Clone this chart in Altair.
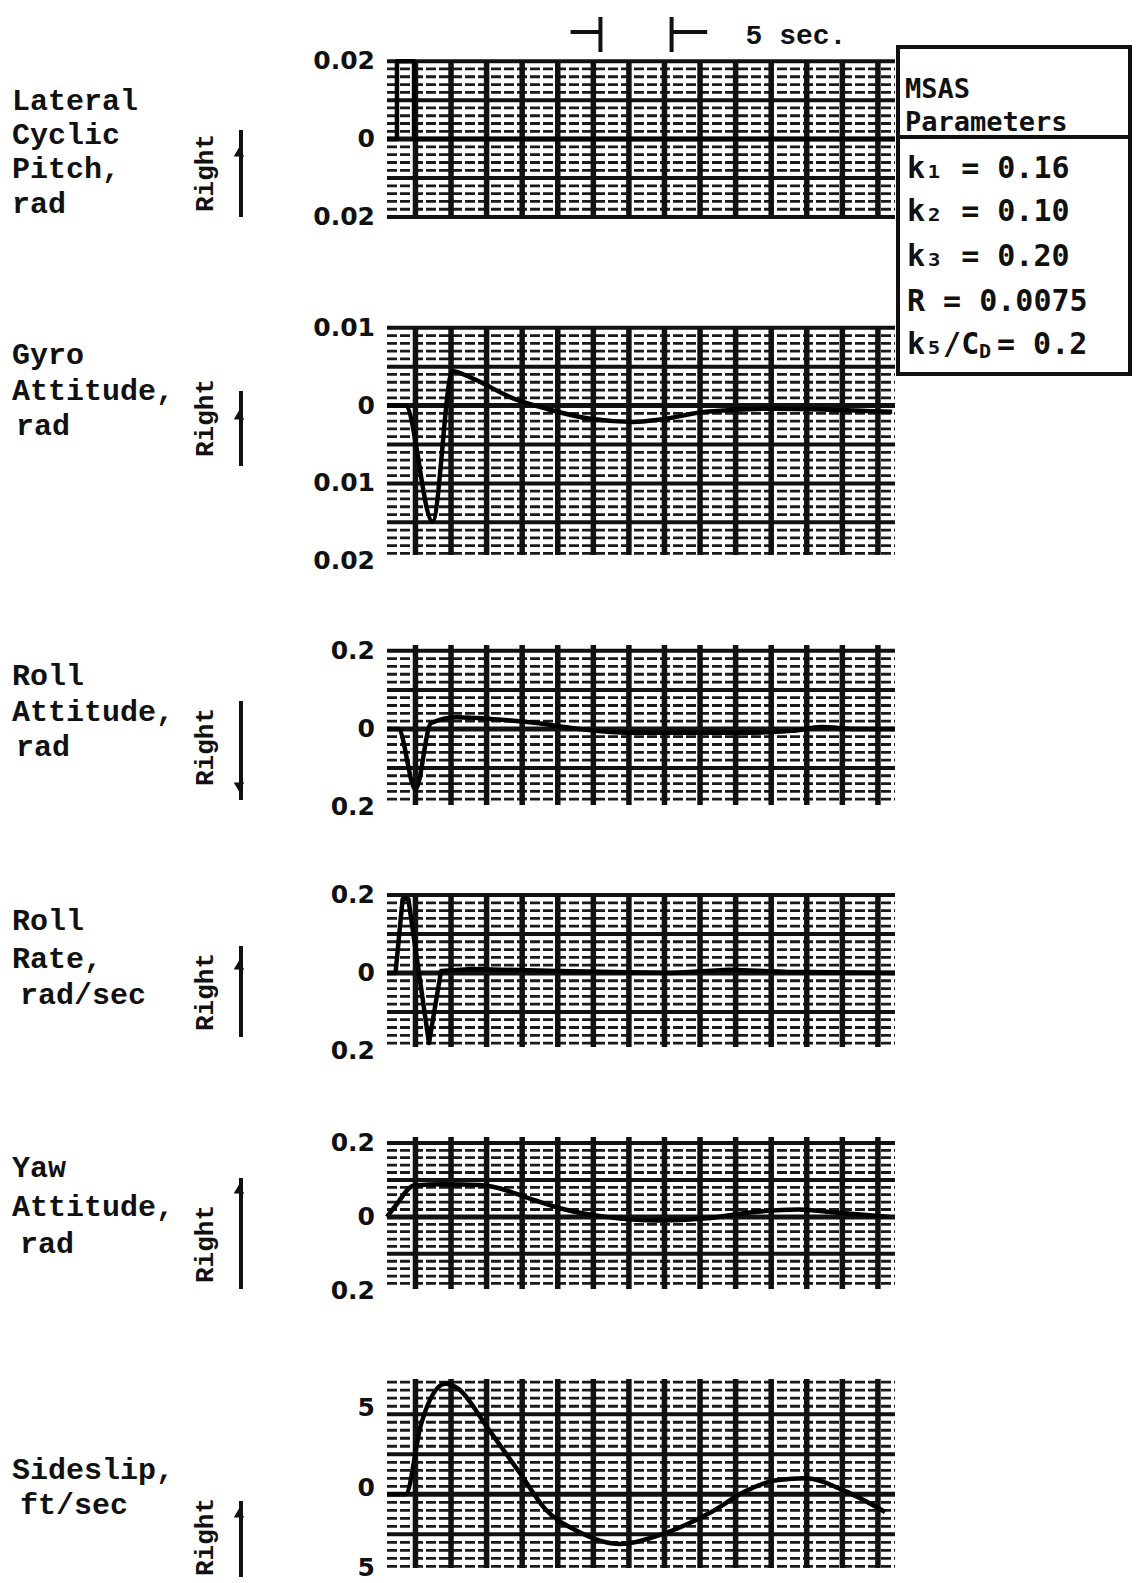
import math
import altair as alt
import pandas as pd

# ---------------- data (read from the recording) ----------------
time_max = 35.7            # seconds shown across each strip

lat_t = [0.0, 0.7, 0.7, 1.9, 1.9, 35.7]
lat_v = [0.0, 0.0, 0.02, 0.02, 0.0, 0.0]

gyro_t = [0.0, 1.3, 3.2, 4.6, 6.0, 8.9, 11.2, 14.3, 17.3, 19.2, 22.4, 27.1, 35.5]
gyro_v = [0.0, 0.0, -0.0149, 0.0044, 0.0035, 0.0009, -0.0004, -0.0017, -0.0021,
          -0.0018, -0.0008, -0.0004, -0.0008]

roll_t = [0.0, 0.8, 2.0, 3.1, 4.9, 7.5, 10.5, 13.5, 17.0, 21.0, 25.0, 28.5, 30.5, 33.0, 35.7]
roll_v = [0.0, 0.0, -0.155, 0.015, 0.03, 0.025, 0.015, 0.0, -0.01, -0.01, -0.01,
          -0.005, 0.005, 0.0, 0.0]

rate_t = [0.0, 0.6, 1.1, 1.5, 2.95, 3.8, 6.0, 12.0, 20.0, 24.0, 28.0, 35.7]
rate_v = [0.0, 0.0, 0.19, 0.19, -0.18, 0.005, 0.01, 0.005, 0.0, 0.008, 0.003, 0.0]

yaw_t = [0.0, 0.6, 1.9, 4.0, 6.5, 7.6, 10.0, 12.5, 15.4, 19.0, 22.5, 25.5, 28.9, 31.5, 35.3]
yaw_v = [0.0, 0.03, 0.085, 0.088, 0.086, 0.08, 0.05, 0.02, 0.0, -0.01, -0.004,
         0.012, 0.02, 0.012, 0.0]

slip_t = [0.0, 1.3, 2.4, 4.1, 5.0, 7.1, 9.4, 11.1, 13.4, 16.4, 19.3, 22.8, 25.2,
          27.5, 29.4, 32.2, 35.0]
slip_v = [0.0, 0.0, 4.4, 6.9, 6.6, 4.1, 1.25, -0.9, -2.3, -3.1, -2.5, -1.1, 0.2,
          0.9, 1.0, 0.2, -1.1]

lat_tick_v = [0.02, 0.0, -0.02]
lat_tick_s = ["0.02", "0", "0.02"]
gyro_tick_v = [0.01, 0.0, -0.01, -0.02]
gyro_tick_s = ["0.01", "0", "0.01", "0.02"]
roll_tick_v = [0.2, 0.0, -0.2]
roll_tick_s = ["0.2", "0", "0.2"]
rate_tick_v = [0.2, 0.0, -0.2]
rate_tick_s = ["0.2", "0", "0.2"]
yaw_tick_v = [0.2, 0.0, -0.2]
yaw_tick_s = ["0.2", "0", "0.2"]
slip_tick_v = [5, 0, -5]
slip_tick_s = ["5", "0", "5"]

lat_label = ["Lateral", "Cyclic", "Pitch,", "rad"]
gyro_label = ["Gyro", "Attitude,", "rad"]
roll_label = ["Roll", "Attitude,", "rad"]
rate_label = ["Roll", "Rate,", "rad/sec"]
yaw_label = ["Yaw", "Attitude,", "rad"]
slip_label = ["Sideslip,", "ft/sec"]
right_word = "Right"

sec_marks = [15.0, 20.0]
sec_arrow_from = [12.9, 20.0]
sec_arrow_to = [15.0, 22.5]
sec_text = "5 sec."
sec_text_t = 25.2

legend_head = ["MSAS", "Parameters"]
legend_rows = ["k₁ = 0.16", "k₂ = 0.10", "k₃ = 0.20", "R = 0.0075"]
legend_last = ["k₅/C", "D", "= 0.2"]

# ---------------- layout / style ----------------
W = 508
LABEL_FONT = "Liberation Mono"
TICK_FONT = "DejaVu Sans"
INK = "#111111"


def strip(t, v, y_dom, height, major, tick_v, tick_s, label_lines, label_ys,
          label_dx, right_y, arrow_span, head_y, head_shape, interp, extra=None,
          tick_dy=0):
    xs = alt.Scale(domain=[0, time_max], nice=False, zero=False)
    ys = alt.Scale(domain=y_dom, nice=False, zero=False)

    def X(f):
        return alt.X(f, type="quantitative", scale=xs, axis=None)

    def Y(f):
        return alt.Y(f, type="quantitative", scale=ys, axis=None)

    lo, hi = y_dom
    minor = major / 5.0
    k0 = math.ceil(lo / minor - 1e-9)
    k1 = math.floor(hi / minor + 1e-9)
    fine = [round(k * minor, 10) for k in range(k0, k1 + 1) if k % 5 != 0]
    thick = [round(k * minor, 10) for k in range(k0, k1 + 1) if k % 5 == 0 and k != 0]
    verts = [2.0 + 2.5 * i for i in range(20) if 2.0 + 2.5 * i < time_max]

    layers = [
        alt.Chart(pd.DataFrame({"g": fine})).mark_rule(
            color="#1a1a1a", strokeWidth=2.8, strokeDash=[10, 3]
        ).encode(y=Y("g"), x=alt.value(0), x2=alt.value(W)),
        alt.Chart(pd.DataFrame({"g": thick})).mark_rule(
            color=INK, strokeWidth=4
        ).encode(y=Y("g"), x=alt.value(0), x2=alt.value(W)),
        alt.Chart(pd.DataFrame({"g": [0.0]})).mark_rule(
            color=INK, strokeWidth=5
        ).encode(y=Y("g"), x=alt.value(0), x2=alt.value(W)),
        alt.Chart(pd.DataFrame({"g": verts})).mark_rule(
            color=INK, strokeWidth=5.5
        ).encode(x=X("g"), y=alt.value(0), y2=alt.value(height)),
        alt.Chart(pd.DataFrame({"t": t, "v": v, "i": list(range(len(t)))})).mark_line(
            color="black", strokeWidth=4.5, interpolate=interp, strokeJoin="round"
        ).encode(x=X("t"), y=Y("v"), order="i:Q"),
        alt.Chart(pd.DataFrame({"v": tick_v, "s": tick_s})).mark_text(
            align="right", baseline="middle", font=TICK_FONT, fontWeight="bold",
            fontSize=25, color=INK, dy=tick_dy
        ).encode(x=alt.value(-12), y=Y("v"), text="s:N"),
        alt.Chart(pd.DataFrame({"s": [right_word]})).mark_text(
            angle=270, align="center", baseline="middle", font=LABEL_FONT,
            fontWeight="bold", fontSize=26, color=INK
        ).encode(x=alt.value(-182), y=alt.value(right_y), text="s:N"),
        alt.Chart(pd.DataFrame({"s": [right_word]})).mark_rule(
            color=INK, strokeWidth=4
        ).encode(x=alt.value(-146), y=alt.value(arrow_span[0]), y2=alt.value(arrow_span[1])),
        alt.Chart(pd.DataFrame({"s": [right_word]})).mark_point(
            shape=head_shape, filled=True, size=110, color=INK, opacity=1
        ).encode(x=alt.value(-148), y=alt.value(head_y)),
    ]
    for line, ly, dx in zip(label_lines, label_ys, label_dx):
        layers.append(
            alt.Chart(pd.DataFrame({"s": [line]})).mark_text(
                align="left", baseline="middle", font=LABEL_FONT, fontWeight="bold",
                fontSize=30, color=INK
            ).encode(x=alt.value(-375 + dx), y=alt.value(ly), text="s:N")
        )
    if extra:
        layers.extend(extra(X, Y))
    return alt.layer(*layers).properties(width=W, height=height)


def top_extras(X, Y):
    out = [
        alt.Chart(pd.DataFrame({"t": sec_marks})).mark_rule(color=INK, strokeWidth=4).encode(
            x=X("t"), y=alt.value(-43), y2=alt.value(-8)),
        alt.Chart(pd.DataFrame({"a": sec_arrow_from, "b": sec_arrow_to})).mark_rule(
            color=INK, strokeWidth=4).encode(x=X("a"), x2=alt.X2("b"), y=alt.value(-28)),
        alt.Chart(pd.DataFrame({"t": [sec_text_t], "s": [sec_text]})).mark_text(
            align="left", baseline="middle", font=LABEL_FONT, fontWeight="bold",
            fontSize=28, color=INK).encode(x=X("t"), y=alt.value(-24), text="s:N"),
        # parameter box
        alt.Chart(pd.DataFrame({"s": ["box"]})).mark_rect(
            fill="white", stroke=INK, strokeWidth=4).encode(
            x=alt.value(511), x2=alt.value(743), y=alt.value(-13), y2=alt.value(314)),
        alt.Chart(pd.DataFrame({"s": ["div"]})).mark_rule(color=INK, strokeWidth=4).encode(
            x=alt.value(511), x2=alt.value(743), y=alt.value(77)),
    ]
    for s, yy in zip(legend_head, [30, 63]):
        out.append(alt.Chart(pd.DataFrame({"s": [s]})).mark_text(
            align="left", baseline="middle", font="DejaVu Sans Mono", fontWeight="bold",
            fontSize=27, color=INK).encode(x=alt.value(518), y=alt.value(yy), text="s:N"))
    for s, yy in zip(legend_rows, [109, 152, 197, 242]):
        out.append(alt.Chart(pd.DataFrame({"s": [s]})).mark_text(
            align="left", baseline="middle", font="DejaVu Sans Mono", fontWeight="bold",
            fontSize=30, color=INK).encode(x=alt.value(520), y=alt.value(yy), text="s:N"))
    for s, xx, yy, fs in zip(legend_last, [520, 592, 610], [285, 292, 285], [30, 20, 30]):
        out.append(alt.Chart(pd.DataFrame({"s": [s]})).mark_text(
            align="left", baseline="middle", font="DejaVu Sans Mono", fontWeight="bold",
            fontSize=fs, color=INK).encode(x=alt.value(xx), y=alt.value(yy), text="s:N"))
    return out


p1 = strip(lat_t, lat_v, [-0.0205, 0.0203], 159, 0.01, lat_tick_v, lat_tick_s,
           lat_label, [41, 75, 109, 144], [0, 0, 0, 0], 113, (70, 157), 92,
           "triangle-up", "linear", extra=top_extras)
p2 = strip(gyro_t, gyro_v, [-0.0192, 0.0101], 228, 0.005, gyro_tick_v, gyro_tick_s,
           gyro_label, [28, 64, 99], [0, 0, 4], 91, (64, 139), 88,
           "triangle-up", "monotone")
p3 = strip(roll_t, roll_v, [-0.195, 0.215], 160, 0.1, roll_tick_v, roll_tick_s,
           roll_label, [31, 67, 102], [0, 0, 4], 102, (56, 155), 142,
           "triangle-down", "monotone")
p4 = strip(rate_t, rate_v, [-0.19, 0.2], 152, 0.1, rate_tick_v, rate_tick_s,
           rate_label, [26, 64, 100], [0, 0, 8], 97, (51, 142), 70,
           "triangle-up", "linear")
p5 = strip(yaw_t, yaw_v, [-0.195, 0.216], 152, 0.1, yaw_tick_v, yaw_tick_s,
           yaw_label, [31, 70, 107], [0, 0, 8], 107, (41, 152), 52,
           "triangle-up", "monotone")
p6 = strip(slip_t, slip_v, [-4.6, 7.2], 189, 2.5, slip_tick_v, slip_tick_s,
           slip_label, [91, 126], [0, 8], 158, (122, 198), 134,
           "triangle-up", "monotone", tick_dy=-6)

lower = alt.vconcat(p2, p3, p4, p5, p6, spacing=90, bounds="flush")
chart = alt.vconcat(p1, lower, spacing=108, bounds="flush").properties(
    padding={"left": 12, "top": 15, "right": 5, "bottom": 5},
    background="white",
).configure_view(strokeWidth=0)

chart.save("out.html", embed_options={"renderer": "svg", "actions": False})
